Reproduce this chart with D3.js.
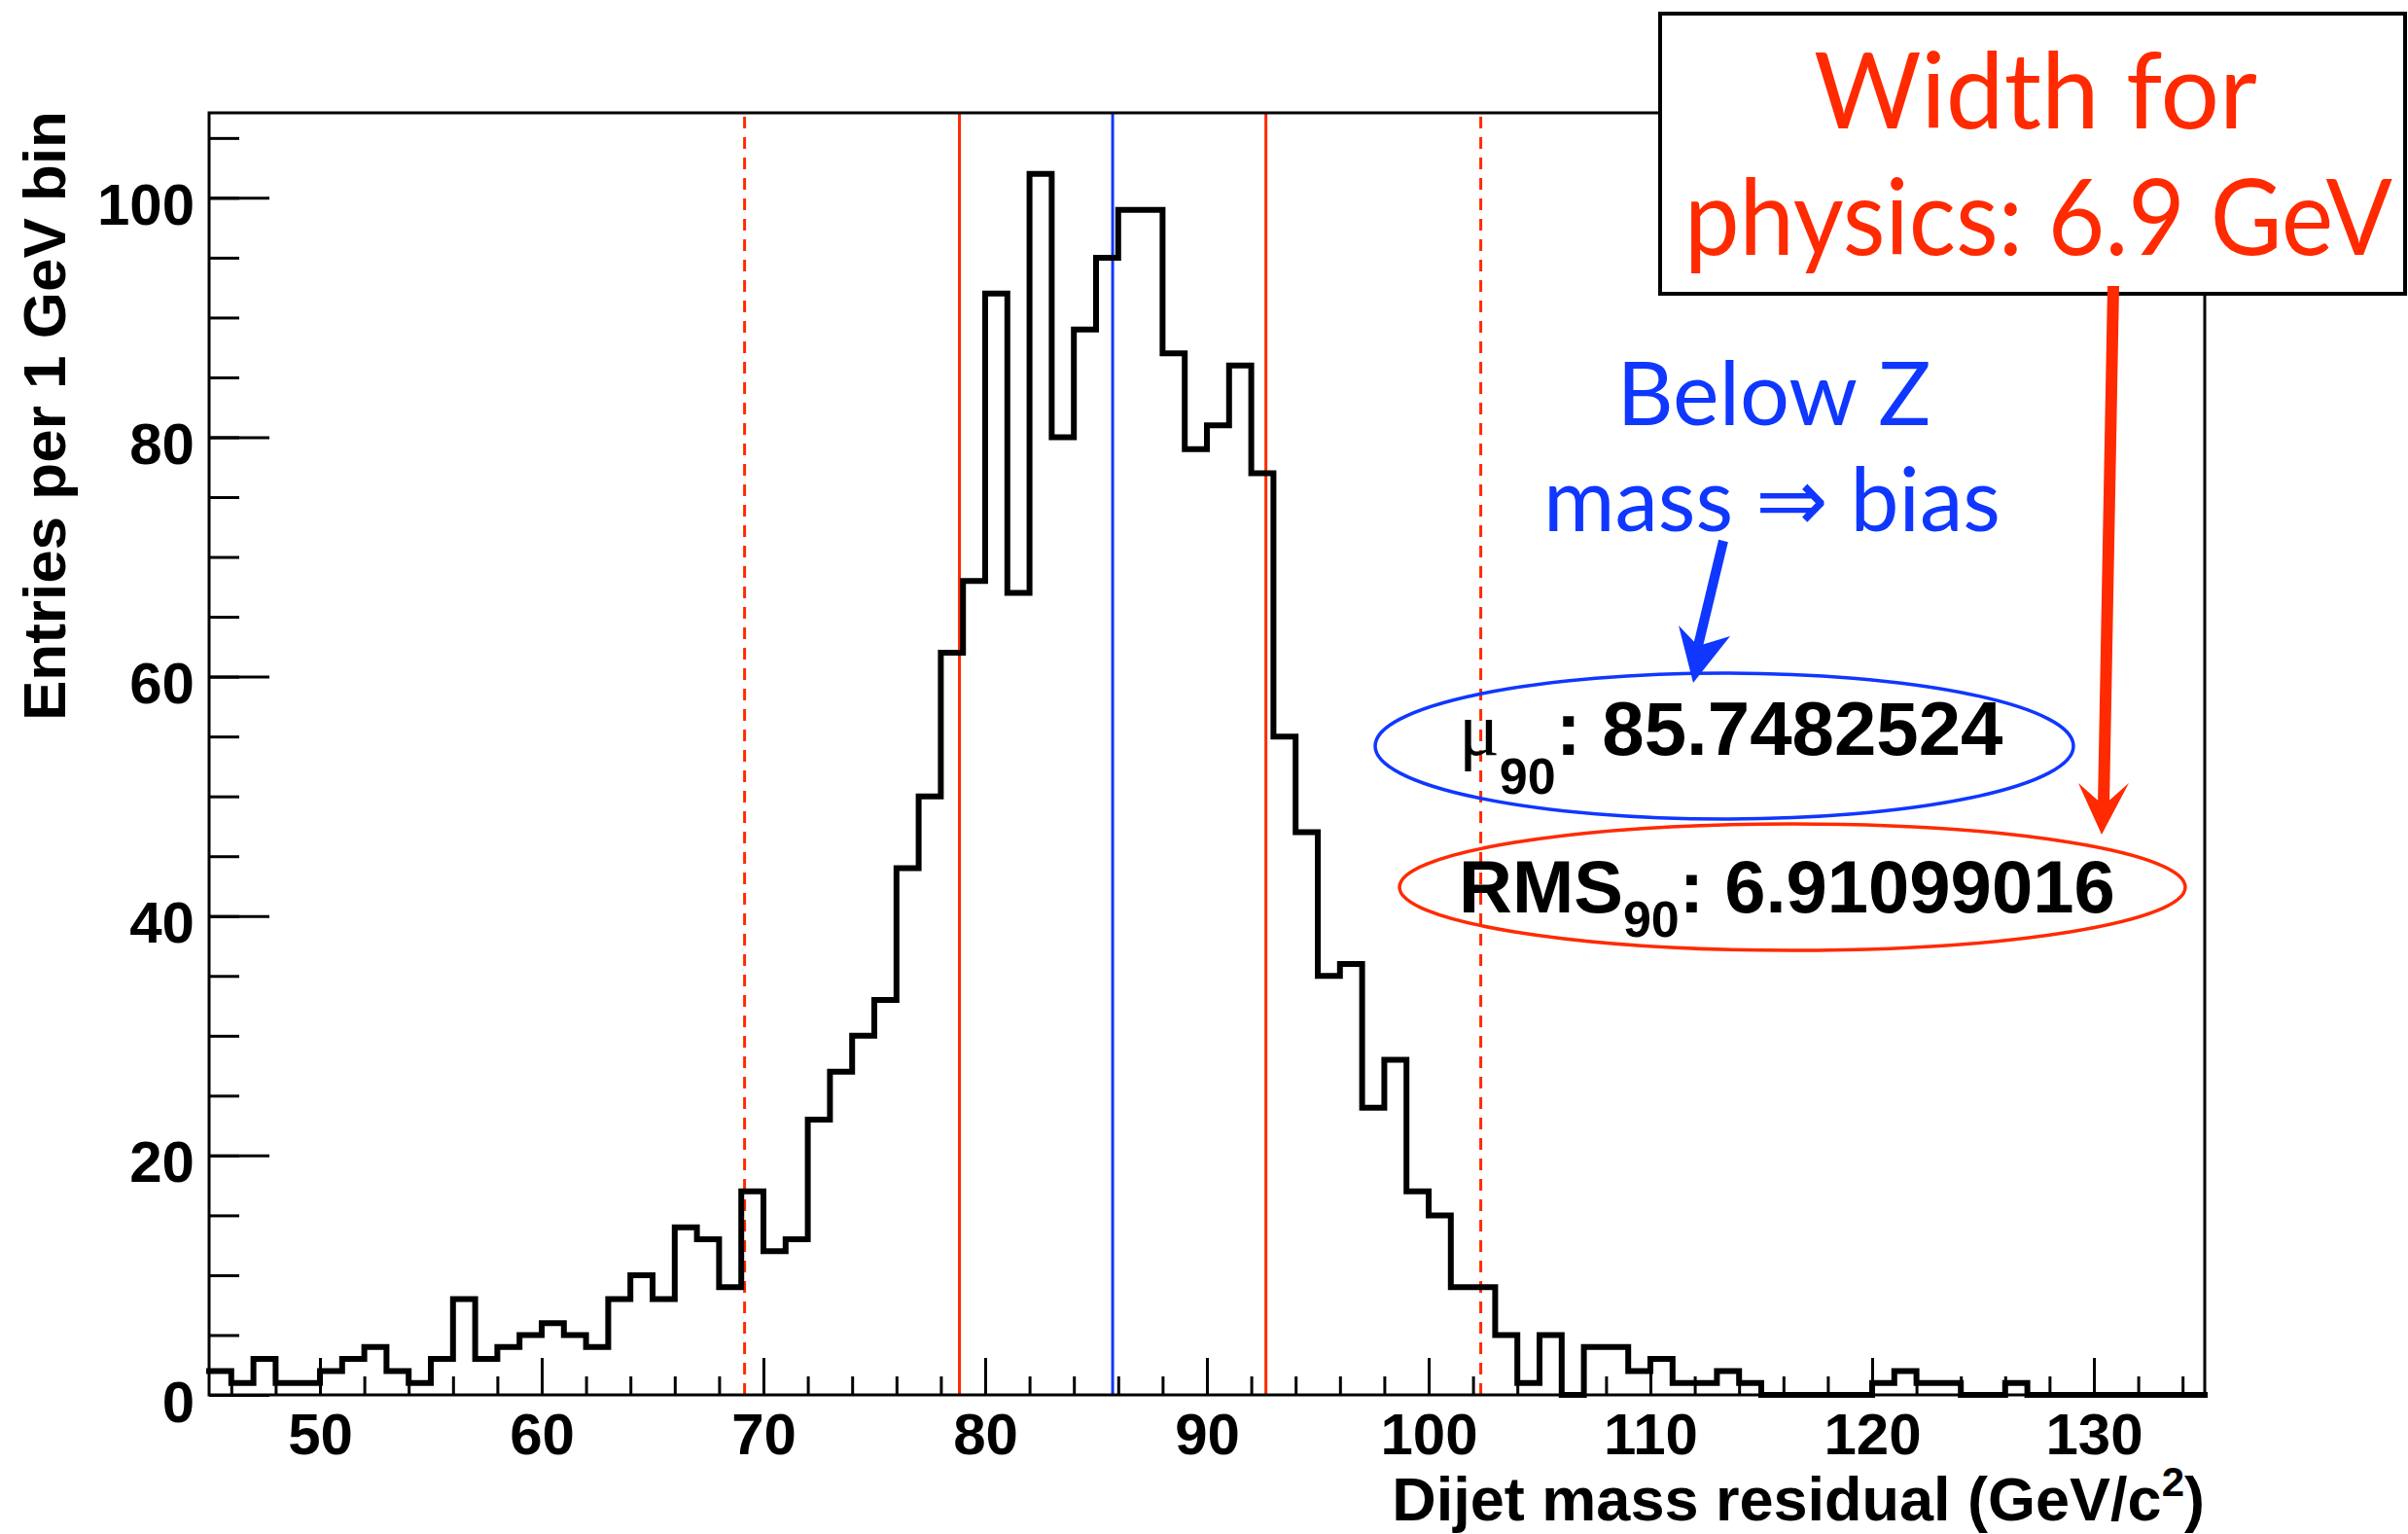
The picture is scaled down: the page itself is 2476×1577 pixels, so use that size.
<!DOCTYPE html>
<html>
<head>
<meta charset="utf-8">
<script src="https://cdn.jsdelivr.net/npm/d3@7"></script>
<style>
  body { margin: 0; background: #fff; }
  svg { display: block; }
</style>
</head>
<body>
<svg id="chart"></svg>
<script>
// Dijet mass residual histogram, 1 GeV bins starting at 45 GeV
const binStart = 45;
const counts = [
  2, 1, 3, 1, 1,
  2, 3, 4, 2, 1, 3, 8, 3, 4, 5,
  6, 5, 4, 8, 10, 8, 14, 13, 9, 17,
  12, 13, 23, 27, 30, 33, 44, 50, 62, 68,
  92, 67, 102, 80, 89, 95, 99, 99, 87, 79,
  81, 86, 77, 55, 47, 35, 36, 24, 28, 17,
  15, 9, 9, 5, 1, 5, 0, 4, 4, 2,
  3, 1, 1, 2, 1, 0, 0, 0, 0, 0,
  1, 2, 1, 1, 0, 0, 1, 0, 0, 0,
  0, 0, 0, 0, 0
];
const xTicks = [50, 60, 70, 80, 90, 100, 110, 120, 130];
const yTicks = [0, 20, 40, 60, 80, 100];

// fitted quantities drawn as vertical markers
const mu90 = [85.7482524];
const rms90Edges = [78.84, 92.66];
const tailEdges = [69.15, 102.35];
const muLabel = "85.7482524";
const rmsLabel = "6.91099016";

const W = 2476, H = 1577;
const margin = { left: 215, right: 2267, top: 116, bottom: 1434 };
const red = "#ff2a00";
const blue = "#0f37ff";

const svg = d3.select('#chart')
    .attr('width', W)
    .attr('height', H)
    .style('background', '#fff');

const x = d3.scaleLinear().domain([45, 135]).range([margin.left, margin.right]);
const y = d3.scaleLinear().domain([0, 107.1]).range([margin.bottom, margin.top]);

// marker lines (behind the histogram)
const lines = svg.append('g');
lines.selectAll('.tail')
    .data(tailEdges)
    .enter().append('line')
    .attr('x1', d => x(d)).attr('x2', d => x(d))
    .attr('y1', y(0)).attr('y2', margin.top)
    .style('stroke', red).style('stroke-width', 3)
    .style('stroke-dasharray', '12,9');
lines.selectAll('.rms')
    .data(rms90Edges)
    .enter().append('line')
    .attr('x1', d => x(d)).attr('x2', d => x(d))
    .attr('y1', y(0)).attr('y2', margin.top)
    .style('stroke', red).style('stroke-width', 3);
lines.selectAll('.mu')
    .data(mu90)
    .enter().append('line')
    .attr('x1', d => x(d)).attr('x2', d => x(d))
    .attr('y1', y(0)).attr('y2', margin.top)
    .style('stroke', blue).style('stroke-width', 3);

// histogram outline as a step line
const pts = counts.map((c, i) => [binStart + i, c]);
pts.push([binStart + counts.length, counts[counts.length - 1]]);
const step = d3.line()
    .x(d => x(d[0]))
    .y(d => y(d[1]))
    .curve(d3.curveStepAfter);
svg.append('path')
    .attr('d', step(pts))
    .style('fill', 'none')
    .style('stroke', '#000')
    .style('stroke-width', 6)
    .style('stroke-linejoin', 'miter')
    .style('stroke-linecap', 'square');

// frame
svg.append('rect')
    .attr('x', margin.left).attr('y', margin.top)
    .attr('width', margin.right - margin.left)
    .attr('height', margin.bottom - margin.top)
    .style('fill', 'none').style('stroke', '#000').style('stroke-width', 3);

// axes, ticks pointing into the frame
const tickFont = g => g.selectAll('text')
    .style('font-family', '"Liberation Sans", Arial, sans-serif')
    .style('font-weight', 'bold')
    .style('font-size', '60px')
    .style('fill', '#000');

const yAxis = svg.append('g').attr('transform', `translate(${margin.left},0)`)
    .call(d3.axisLeft(y).tickValues(yTicks).tickSize(-62).tickPadding(15).tickFormat(d3.format('d')));
svg.append('g').attr('transform', `translate(${margin.left},0)`)
    .call(d3.axisLeft(y).tickValues(d3.range(0, 106, 5)).tickSize(-31).tickFormat(''));
const xAxis = svg.append('g').attr('transform', `translate(0,${margin.bottom})`)
    .call(d3.axisBottom(x).tickValues(xTicks).tickSize(-38).tickPadding(18).tickFormat(d3.format('d')));
svg.append('g').attr('transform', `translate(0,${margin.bottom})`)
    .call(d3.axisBottom(x).tickValues(d3.range(46, 135, 2)).tickSize(-19).tickFormat(''));

svg.selectAll('.domain').remove();
svg.selectAll('.tick line').style('stroke', '#000').style('stroke-width', 3);
yAxis.call(tickFont);
yAxis.selectAll('text').attr('dy', '0.45em');
xAxis.call(tickFont);

// axis titles
const xTitle = svg.append('text')
    .attr('x', margin.right).attr('y', 1563)
    .attr('text-anchor', 'end')
    .style('font-family', '"Liberation Sans", Arial, sans-serif')
    .style('font-weight', 'bold').style('font-size', '63px');
xTitle.append('tspan').text('Dijet mass residual (GeV/c');
xTitle.append('tspan').attr('dy', -25).style('font-size', '42px').text('2');
xTitle.append('tspan').attr('dy', 25).text(')');

svg.append('text')
    .attr('transform', `translate(67,${margin.top - 2}) rotate(-90)`)
    .attr('text-anchor', 'end')
    .style('font-family', '"Liberation Sans", Arial, sans-serif')
    .style('font-weight', 'bold').style('font-size', '62px')
    .text('Entries per 1 GeV bin');

// annotations
const ann = svg.append('g');

ann.append('ellipse')
    .attr('cx', 1773).attr('cy', 767).attr('rx', 359).attr('ry', 75)
    .style('fill', 'none').style('stroke', blue).style('stroke-width', 3.5);
ann.append('ellipse')
    .attr('cx', 1843).attr('cy', 912).attr('rx', 404).attr('ry', 65)
    .style('fill', 'none').style('stroke', red).style('stroke-width', 3.5);

const bold = '"Liberation Sans", Arial, sans-serif';
const mu = ann.append('text').attr('x', 1500).attr('y', 776)
    .style('font-family', bold).style('font-weight', 'bold').style('font-size', '78px');
mu.append('tspan').style('font-family', '"Liberation Serif", serif').style('font-weight', 'normal').text('μ');
mu.append('tspan').attr('dy', 40).style('font-size', '52px').text('90');
mu.append('tspan').attr('dy', -40).text(': ' + muLabel);

const rms = ann.append('text').attr('x', 1500).attr('y', 938)
    .style('font-family', bold).style('font-weight', 'bold').style('font-size', '76px');
rms.append('tspan').text('RMS');
rms.append('tspan').attr('dy', 25).style('font-size', '52px').text('90');
rms.append('tspan').attr('dy', -25).text(': ' + rmsLabel);

// "Below Z mass => bias"
const sans = 'Lato, "Open Sans", sans-serif';
ann.append('text').attr('x', 1824).attr('y', 437).attr('text-anchor', 'middle')
    .style('font-family', sans).style('font-size', '92px').style('fill', blue)
    .attr('textLength', 323).attr('lengthAdjust', 'spacingAndGlyphs')
    .text('Below Z');
ann.append('text').attr('x', 1822).attr('y', 546).attr('text-anchor', 'middle')
    .style('font-family', sans).style('font-size', '92px').style('fill', blue)
    .attr('textLength', 470).attr('lengthAdjust', 'spacingAndGlyphs')
    .text('mass \u21D2 bias');

// arrows
function arrow(from, notch, tip, wingL, wingR, color, w) {
    ann.append('line')
        .attr('x1', from[0]).attr('y1', from[1])
        .attr('x2', notch[0]).attr('y2', notch[1])
        .style('stroke', color).style('stroke-width', w);
    ann.append('path')
        .attr('d', `M${tip}L${wingL}L${notch}L${wingR}Z`)
        .style('fill', color);
}
arrow([1772, 556], [1746, 664], [1741, 702], [1726, 643], [1779, 654], blue, 10);

// boxed headline
ann.append('rect')
    .attr('x', 1707).attr('y', 14).attr('width', 766).attr('height', 288)
    .style('fill', '#fff').style('stroke', '#000').style('stroke-width', 4);
ann.append('text').attr('x', 2093).attr('y', 132).attr('text-anchor', 'middle')
    .style('font-family', sans).style('font-size', '108px').style('fill', red)
    .attr('textLength', 456).attr('lengthAdjust', 'spacingAndGlyphs')
    .text('Width for');
ann.append('text').attr('x', 2096).attr('y', 262).attr('text-anchor', 'middle')
    .style('font-family', sans).style('font-size', '108px').style('fill', red)
    .attr('textLength', 728).attr('lengthAdjust', 'spacingAndGlyphs')
    .text('physics: 6.9 GeV');

arrow([2173, 294], [2163, 828], [2161, 858], [2137, 805], [2189, 805], red, 12);
</script>
</body>
</html>
